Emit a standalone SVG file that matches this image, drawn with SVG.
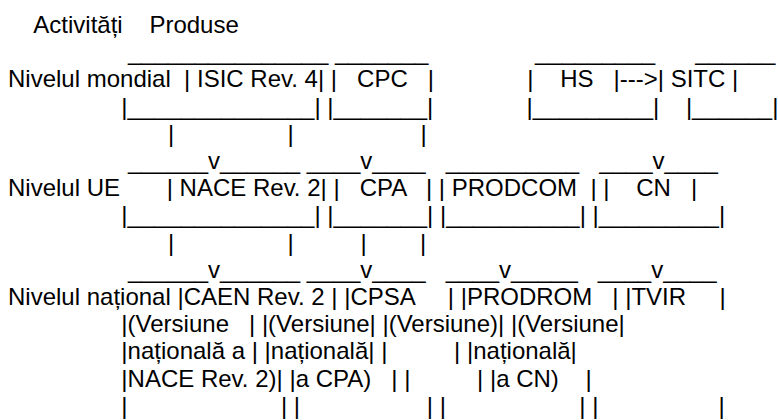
<svg xmlns="http://www.w3.org/2000/svg" width="778" height="420" viewBox="0 0 778 420" xml:space="preserve">
<style>
text{font-family:"Liberation Sans",Arial,sans-serif;font-size:24px;fill:#000;white-space:pre}
</style>
<rect width="778" height="420" fill="#fff"/>
<g id="header">
<text x="8" y="33">    Activități    Produse</text>
</g>
<g id="level-world">
<text x="8" y="60.2">                  _______________ _______                _________      ______</text>
<text x="8" y="87.4">Nivelul mondial  | ISIC Rev. 4| |   CPC   |              |    HS   |--->| SITC |</text>
<text x="8" y="114.6">                 |______________| |_______|              |_________|    |______|</text>
</g>
<g id="connectors-1">
<text x="8" y="141.8">                        |                 |                   |</text>
<text x="8" y="169">                  ______v______ ____v____   __________   ____v____</text>
</g>
<g id="level-eu">
<text x="8" y="196.2">Nivelul UE       | NACE Rev. 2| |   CPA   | | PRODCOM  | |    CN   |</text>
<text x="8" y="223.4">                 |______________| |_______| |__________| |_________|</text>
</g>
<g id="connectors-2">
<text x="8" y="250.6">                        |                 |          |        |</text>
<text x="8" y="277.8">                  ______v______ ____v____   ____v_____   ____v____</text>
</g>
<g id="level-national">
<text x="8" y="305">Nivelul național |CAEN Rev. 2 | |CPSA     | |PRODROM   | |TVIR     |</text>
<text x="8" y="332.2">                 |(Versiune   | |(Versiune| |(Versiune)| |(Versiune|</text>
<text x="8" y="359.4">                 |națională a | |națională| |          | |națională|</text>
<text x="8" y="386.6">                 |NACE Rev. 2)| |a CPA)   | |          | |a CN)    |</text>
<text x="8" y="413.8">                 |                       | |                   | |                    | |                  |</text>
</g>
</svg>
